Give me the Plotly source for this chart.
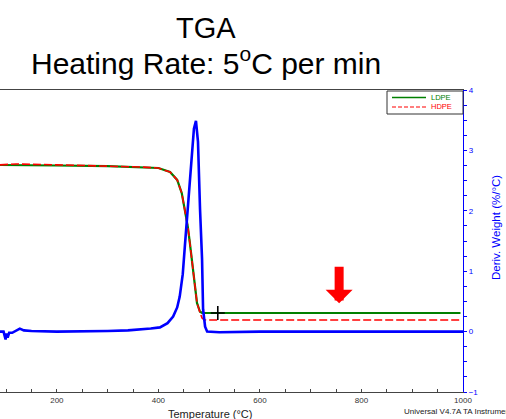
import plotly.graph_objects as go

# ---- data ----
temp_deriv = [88, 95, 99, 101, 103, 106, 112, 120, 127, 135, 150, 200, 250, 300, 340, 363, 385, 403,
              418, 429, 437, 442, 448, 452, 456, 460, 466, 470, 474, 478, 482, 486, 488, 492, 496,
              520, 600, 800, 1000]
deriv = [0.0, 0.0, -0.13, -0.03, -0.10, -0.02, -0.02, 0.02, 0.05, 0.02, 0.01, 0.0, 0.0, 0.01, 0.02,
         0.03, 0.05, 0.07, 0.14, 0.25, 0.40, 0.58, 0.95, 1.40, 1.86, 2.31, 2.86, 3.36, 3.49, 3.14,
         2.03, 1.20, 0.37, 0.08, 0.0, -0.01, 0.0, 0.0, 0.0]

temp_tga = [88, 120, 200, 300, 364, 400, 423, 437, 446, 452, 458, 462, 468, 472, 476, 482, 486,
            490, 495, 520, 600, 800, 995]
ldpe = [100.0, 99.8, 99.7, 99.3, 98.8, 98.2, 95.8, 91.1, 83.3, 73.2, 63.1, 53.5, 39.2, 27.3, 17.8,
        12.5, 11.9, 11.8, 11.8, 11.8, 11.8, 11.8, 11.8]
hdpe = [100.1, 100.6, 100.1, 99.5, 98.8, 98.2, 95.8, 91.1, 83.3, 73.2, 63.1, 53.5, 39.2, 27.3, 17.8,
        12.0, 8.8, 7.8, 7.6, 7.6, 7.6, 7.6, 7.6]

series_names = ["LDPE", "HDPE"]

cursor_temp = [517]
cursor_weight = [11.8]

arrow_temp = 756
arrow_deriv = 0.47

GREEN = "#008000"
RED = "#ff0000"
BLUE = "#0000ff"
FONT = "Liberation Sans, Arial, sans-serif"

fig = go.Figure()
fig.add_trace(go.Scatter(x=temp_deriv, y=deriv, mode="lines", yaxis="y2",
                         line=dict(color=BLUE, width=2.6), showlegend=False))
fig.add_trace(go.Scatter(x=temp_tga, y=ldpe, mode="lines", name=series_names[0], showlegend=False,
                         line=dict(color=GREEN, width=2.2)))
fig.add_trace(go.Scatter(x=temp_tga, y=hdpe, mode="lines", name=series_names[1], showlegend=False,
                         line=dict(color=RED, width=1.6, dash="8px,3px")))
fig.add_trace(go.Scatter(x=cursor_temp, y=cursor_weight, mode="markers", showlegend=False,
                         marker=dict(symbol="cross-thin", size=10, line=dict(color="black", width=1.6))))

fig.update_layout(
    width=506, height=419,
    margin=dict(l=0, r=43, t=90, b=27, pad=0),
    paper_bgcolor="white", plot_bgcolor="white",
    font=dict(family=FONT, size=8, color="#222"),
    xaxis=dict(range=[88, 1000], showgrid=False, zeroline=False,
               showline=True, linecolor="#444", linewidth=1, mirror=True,
               tick0=0, dtick=200, ticks="inside", ticklen=3, tickcolor="#444",
               minor=dict(dtick=50, ticks="inside", ticklen=3, tickcolor="#444"),
               tickfont=dict(size=8, color="#333")),
    yaxis=dict(range=[-35.3, 144.7], visible=False, showgrid=False, zeroline=False),
    yaxis2=dict(range=[-1, 4], overlaying="y", side="right", showgrid=False, zeroline=False,
                showline=True, linecolor=BLUE, linewidth=1.2,
                dtick=1, ticks="outside", ticklen=3, tickcolor=BLUE,
                minor=dict(dtick=0.25, ticks="outside", ticklen=3, tickcolor=BLUE),
                tickfont=dict(size=8, color=BLUE)),
    showlegend=False,
)

def py2paper(py):
    return (392 - py) / 302

def px2paper(px):
    return px / 463

# ---- compact legend box, like the instrument software ----
fig.add_shape(type="rect", xref="paper", yref="paper",
              x0=px2paper(387), x1=1.0, y0=py2paper(114), y1=py2paper(91),
              line=dict(color="#333", width=1), fillcolor="white", layer="above")
legend_rows = [(series_names[0], GREEN, "solid", 1.6, 97.5),
               (series_names[1], RED, "4px,2px", 1.2, 107.0)]
for name, col, dash, w, py in legend_rows:
    fig.add_shape(type="line", xref="paper", yref="paper",
                  x0=px2paper(392), x1=px2paper(426), y0=py2paper(py), y1=py2paper(py),
                  line=dict(color=col, width=w, dash=dash), layer="above")
    fig.add_annotation(text=name, xref="paper", yref="paper", x=px2paper(430), y=py2paper(py),
                       showarrow=False, xanchor="left", yanchor="middle",
                       font=dict(size=7.5, color=col, family=FONT),
                       borderpad=0)

fig.add_annotation(text="TGA", xref="paper", yref="paper", x=0.445, y=py2paper(28),
                   showarrow=False, font=dict(size=29, color="black", family=FONT),
                   xanchor="center", yanchor="middle")
fig.add_annotation(text="Heating Rate: 5<sup>o</sup>C per min", xref="paper", yref="paper",
                   x=0.445, y=py2paper(61), showarrow=False,
                   font=dict(size=30, color="black", family=FONT),
                   xanchor="center", yanchor="middle")
fig.add_annotation(text="Temperature (°C)", xref="paper", yref="paper", x=px2paper(210),
                   y=py2paper(414), showarrow=False, font=dict(size=11, color="#222"),
                   xanchor="center", yanchor="middle")
fig.add_annotation(text="Universal V4.7A TA Instruments", xref="paper", yref="paper",
                   x=px2paper(402), y=py2paper(411), showarrow=False,
                   font=dict(size=8, color="#222"), xanchor="left", yanchor="middle")
fig.add_annotation(text="Deriv. Weight (%/°C)", xref="paper", yref="paper", x=px2paper(496),
                   y=py2paper(228), showarrow=False, textangle=-90,
                   font=dict(size=11.5, color=BLUE), xanchor="center", yanchor="middle")
fig.add_annotation(x=arrow_temp, y=arrow_deriv, xref="x", yref="y2", ax=0, ay=-38,
                   showarrow=True, arrowcolor=RED, arrowwidth=9, arrowhead=1, arrowsize=0.5,
                   text="")

fig.write_html("out.html")
